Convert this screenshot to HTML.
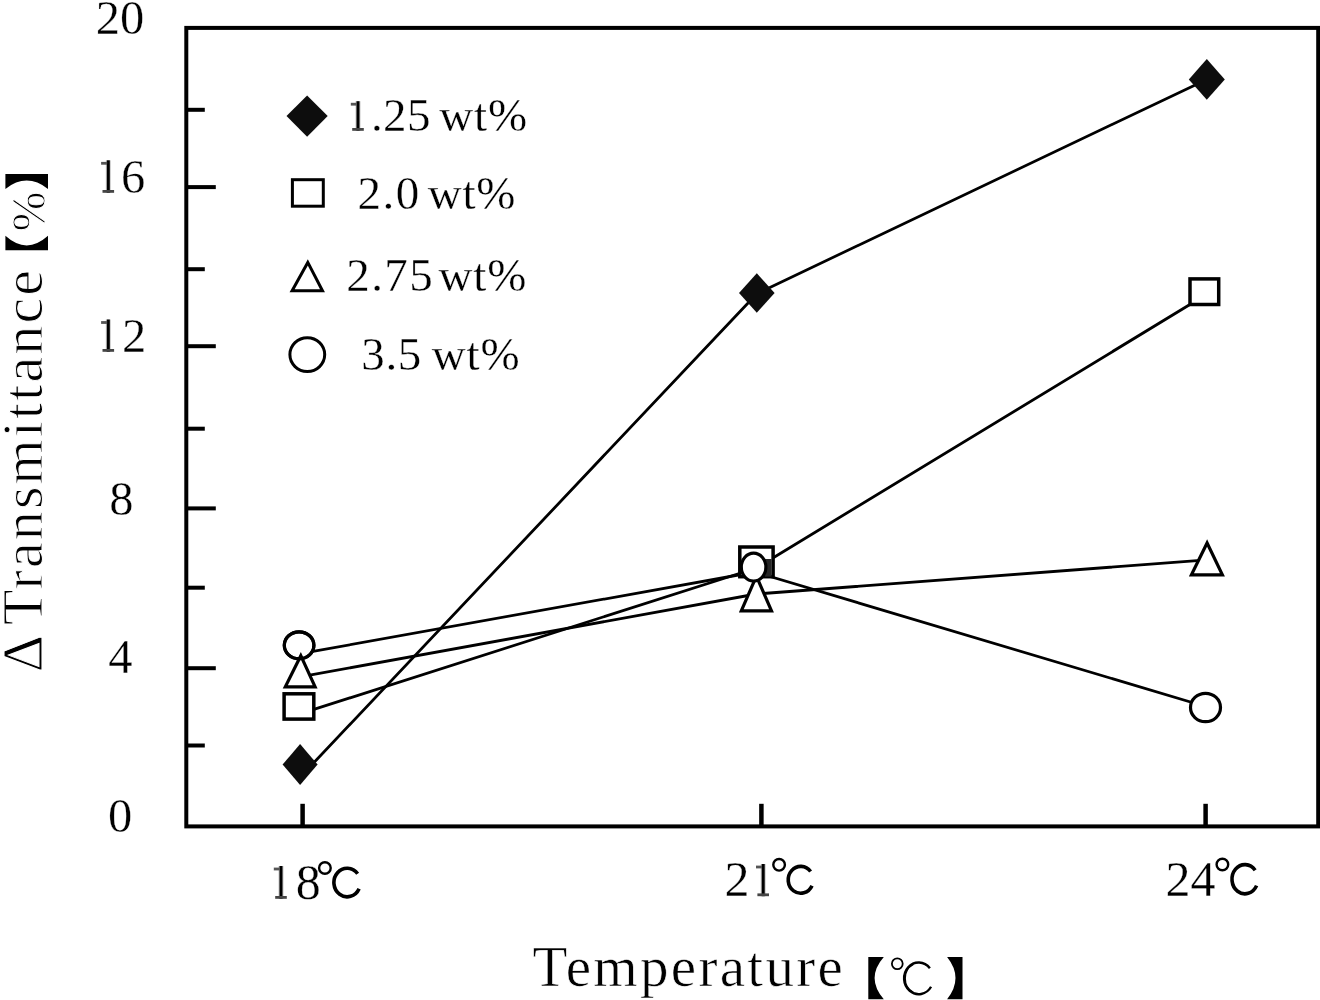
<!DOCTYPE html>
<html><head><meta charset="utf-8"><style>
html,body{margin:0;padding:0;background:#fff;}
svg{display:block;}
text{fill:#000;stroke:#fff;stroke-width:0.3px;paint-order:fill stroke;}
text.t{stroke-width:0.6px;}
text.y{stroke-width:1.0px;}
</style></head><body>
<svg width="1320" height="1000" viewBox="0 0 1320 1000">
<defs><filter id="soft" x="0" y="0" width="1320" height="1000" filterUnits="userSpaceOnUse"><feGaussianBlur stdDeviation="0.45"/></filter></defs>
<rect width="1320" height="1000" fill="#fff"/>
<g filter="url(#soft)">
<rect x="186.3" y="27.9" width="1131.9" height="798.5" fill="none" stroke="#000" stroke-width="4"/>
<line x1="186.3" y1="109.8" x2="204.8" y2="109.8" stroke="#000" stroke-width="4"/>
<line x1="186.3" y1="187.1" x2="215.8" y2="187.1" stroke="#000" stroke-width="4"/>
<line x1="186.3" y1="269.2" x2="204.8" y2="269.2" stroke="#000" stroke-width="4"/>
<line x1="186.3" y1="346.2" x2="215.8" y2="346.2" stroke="#000" stroke-width="4"/>
<line x1="186.3" y1="428.7" x2="204.8" y2="428.7" stroke="#000" stroke-width="4"/>
<line x1="186.3" y1="508.4" x2="215.8" y2="508.4" stroke="#000" stroke-width="4"/>
<line x1="186.3" y1="587.7" x2="204.8" y2="587.7" stroke="#000" stroke-width="4"/>
<line x1="186.3" y1="668.2" x2="215.8" y2="668.2" stroke="#000" stroke-width="4"/>
<line x1="186.3" y1="745.5" x2="204.8" y2="745.5" stroke="#000" stroke-width="4"/>
<line x1="302.6" y1="826.4" x2="302.6" y2="803.8" stroke="#000" stroke-width="4.5"/>
<line x1="761.4" y1="826.4" x2="761.4" y2="803.8" stroke="#000" stroke-width="4.5"/>
<line x1="1205.6" y1="826.4" x2="1205.6" y2="803.8" stroke="#000" stroke-width="4.5"/>
<text x="120.0" y="33.8" text-anchor="middle" font-family='"Liberation Serif", serif' font-size="48.5">20</text>
<text x="121.3" y="514.8" text-anchor="middle" font-family='"Liberation Serif", serif' font-size="48.5">8</text>
<text x="120.3" y="673.3" text-anchor="middle" font-family='"Liberation Serif", serif' font-size="48.5">4</text>
<text x="120.2" y="832.3" text-anchor="middle" font-family='"Liberation Serif", serif' font-size="48.5">0</text>
<rect x="105.80" y="160.30" width="5.00" height="32.50" fill="#c8c8c8"/><rect x="106.80" y="160.30" width="3.00" height="32.50" fill="#000"/><rect x="101.10" y="161.90" width="6.00" height="2.8" fill="#555"/><rect x="102.50" y="190.00" width="11.6" height="2.8" fill="#444"/>
<text x="121.1" y="193.3" font-family='"Liberation Serif", serif' font-size="48.5">6</text>
<rect x="105.80" y="319.50" width="5.00" height="32.30" fill="#c8c8c8"/><rect x="106.80" y="319.50" width="3.00" height="32.30" fill="#000"/><rect x="101.10" y="321.10" width="6.00" height="2.8" fill="#555"/><rect x="102.50" y="349.00" width="11.6" height="2.8" fill="#444"/>
<text x="122.1" y="351.8" font-family='"Liberation Serif", serif' font-size="48.5">2</text>
<rect x="278.50" y="866.00" width="5.00" height="32.80" fill="#c8c8c8"/><rect x="279.50" y="866.00" width="3.00" height="32.80" fill="#000"/><rect x="273.80" y="867.60" width="6.00" height="2.8" fill="#555"/><rect x="275.20" y="896.00" width="11.6" height="2.8" fill="#444"/>
<text x="295.8" y="898.6" font-family='"Liberation Serif", serif' font-size="50">8</text>
<circle cx="324.9" cy="868" r="5.8" fill="none" stroke="#000" stroke-width="2.4"/><path d="M357.63,873.70 A13.27,14.30 0 1 0 359.10,888.77" fill="none" stroke="#000" stroke-width="3.6"/>
<text x="724.4" y="895.8" font-family='"Liberation Serif", serif' font-size="50">2</text>
<rect x="760.70" y="864.00" width="5.00" height="32.20" fill="#c8c8c8"/><rect x="761.70" y="864.00" width="3.00" height="32.20" fill="#000"/><rect x="756.00" y="865.60" width="6.00" height="2.8" fill="#555"/><rect x="757.40" y="893.40" width="11.6" height="2.8" fill="#444"/>
<circle cx="779.1" cy="864.8" r="5.8" fill="none" stroke="#000" stroke-width="2.4"/><path d="M810.61,871.55 A12.53,13.40 0 1 0 812.00,885.67" fill="none" stroke="#000" stroke-width="3.6"/>
<text x="1165.6" y="895.8" font-family='"Liberation Serif", serif' font-size="50">24</text>
<circle cx="1222.4" cy="864.5" r="5.8" fill="none" stroke="#000" stroke-width="2.4"/><path d="M1255.16,870.21 A12.96,14.60 0 1 0 1256.60,885.60" fill="none" stroke="#000" stroke-width="3.6"/>
<text x="532.6" y="985.5" font-family='"Liberation Serif", serif' font-size="57" class="t" textLength="310.3" lengthAdjust="spacing">Temperature</text>
<path d="M868.3,957.1 L883.8,957.1 Q865.40,978.20 883.8,999.3 L868.3,999.3 Z" fill="#000"/>
<path d="M962.5,957.1 L947.1,957.1 Q963.90,978.20 947.1,999.3 L962.5,999.3 Z" fill="#000"/>
<circle cx="897.3" cy="963.7" r="5.4" fill="none" stroke="#000" stroke-width="1.8"/>
<path d="M929.88,968.16 A14.60,15.85 0 1 0 931.08,986.75" fill="none" stroke="#000" stroke-width="2.4"/>
<path d="M912.95,992.17 A13.60,15.25 0 0 1 912.95,964.53" fill="none" stroke="#000" stroke-width="1.6" stroke-linecap="round"/>
<text transform="translate(42,672.2) rotate(-90)" x="0" y="0" font-family='"Liberation Serif", serif' font-size="58" class="t y">&#916;</text>
<text transform="translate(42,625.0) rotate(-90)" x="0" y="0" font-family='"Liberation Serif", serif' font-size="58" class="t y" textLength="355.1" lengthAdjust="spacing">Transmittance</text>
<path d="M5.4,250.2 L5.4,235.8 Q26.70,255.00 48,235.8 L48,250.2 Z" fill="#000"/>
<path d="M5.4,174 L5.4,189 Q26.70,172.20 48,189 L48,174 Z" fill="#000"/>
<text transform="translate(45,231.4) rotate(-90)" font-family='"Liberation Serif", serif' font-size="48" class="t y">%</text>
<polyline points="300,777.3 756.8,293.7 1206.8,79.4" fill="none" stroke="#000" stroke-width="2.8" stroke-linejoin="round"/>
<polyline points="299,714.2 756.4,568 1204.3,295.8" fill="none" stroke="#000" stroke-width="2.8" stroke-linejoin="round"/>
<polyline points="300,676.9 756.4,594 1207,559.9" fill="none" stroke="#000" stroke-width="2.8" stroke-linejoin="round"/>
<polyline points="299,653.9 755,572 1205.5,706.5" fill="none" stroke="#000" stroke-width="2.8" stroke-linejoin="round"/>
<rect x="284.1" y="693.8" width="29.7" height="25.3" fill="#fff" stroke="#000" stroke-width="3.5"/>
<polygon points="300.1,744.1 317.6,764.6 300.1,785.1 282.6,764.6" fill="#111"/>
<ellipse cx="299.1" cy="645.3" rx="14.8" ry="13.5" fill="#fff" stroke="#000" stroke-width="3.2"/>
<polygon points="300.8,655.7 315.1,686.8 285.3,686.8" fill="#fff" stroke="#000" stroke-width="3.2" stroke-linejoin="miter"/>
<ellipse cx="299.1" cy="645.3" rx="14.8" ry="13.5" fill="none" stroke="#000" stroke-width="3.2"/>
<polygon points="756.4,576.2 771.5,610.8 741.3,610.8" fill="#fff" stroke="#000" stroke-width="3.2" stroke-linejoin="miter"/>
<rect x="739.8" y="547.0" width="33.3" height="29.7" fill="#fff" stroke="#000" stroke-width="3.5"/>
<rect x="758" y="559" width="13.6" height="17.5" fill="#262626"/>
<ellipse cx="753.6" cy="567.1" rx="12.3" ry="14.0" fill="#fff" stroke="#000" stroke-width="3.2"/>
<polygon points="756.8,273.2 774.5999999999999,293 756.8,312.8 739.0,293" fill="#111"/>
<polygon points="1206.8,59.10000000000001 1224.8,79.4 1206.8,99.7 1188.8,79.4" fill="#111"/>
<rect x="1190.0" y="278.9" width="28.7" height="25.6" fill="#fff" stroke="#000" stroke-width="3.5"/>
<polygon points="1207.1,543.0 1222.4,574.9 1191.4,574.9" fill="#fff" stroke="#000" stroke-width="3.2" stroke-linejoin="miter"/>
<ellipse cx="1205.5" cy="707.5" rx="15.0" ry="14.2" fill="#fff" stroke="#000" stroke-width="3.2"/>
<polygon points="307.1,95.5 327.70000000000005,116.1 307.1,136.7 286.5,116.1" fill="#111"/>
<rect x="292.4" y="179.7" width="30.9" height="26.5" fill="#fff" stroke="#000" stroke-width="3"/>
<polygon points="307.8,262.4 322.5,290.7 292.1,290.7" fill="#fff" stroke="#000" stroke-width="3" stroke-linejoin="miter"/>
<ellipse cx="307.3" cy="354.6" rx="17.4" ry="16.9" fill="#fff" stroke="#000" stroke-width="3"/>
<rect x="355.50" y="101.20" width="5.00" height="29.60" fill="#c8c8c8"/><rect x="356.50" y="101.20" width="3.00" height="29.60" fill="#000"/><rect x="350.80" y="102.80" width="6.00" height="2.8" fill="#555"/><rect x="352.20" y="128.00" width="11.6" height="2.8" fill="#444"/>
<text x="370.90" y="131.0" font-family='"Liberation Serif", serif' font-size="47" textLength="59.53" lengthAdjust="spacing">.25</text>
<text x="439.15" y="131.0" font-family='"Liberation Serif", serif' font-size="47" textLength="88.05" lengthAdjust="spacing">wt%</text>
<text x="357.43" y="208.9" font-family='"Liberation Serif", serif' font-size="47" textLength="61.86" lengthAdjust="spacing">2.0</text>
<text x="427.75" y="208.9" font-family='"Liberation Serif", serif' font-size="47" textLength="87.55" lengthAdjust="spacing">wt%</text>
<text x="346.23" y="291.1" font-family='"Liberation Serif", serif' font-size="47" textLength="86.50" lengthAdjust="spacing">2.75</text>
<text x="438.45" y="291.1" font-family='"Liberation Serif", serif' font-size="47" textLength="87.95" lengthAdjust="spacing">wt%</text>
<text x="361.25" y="369.9" font-family='"Liberation Serif", serif' font-size="47" textLength="60.08" lengthAdjust="spacing">3.5</text>
<text x="431.65" y="369.9" font-family='"Liberation Serif", serif' font-size="47" textLength="87.95" lengthAdjust="spacing">wt%</text>
</g>
</svg>
</body></html>
